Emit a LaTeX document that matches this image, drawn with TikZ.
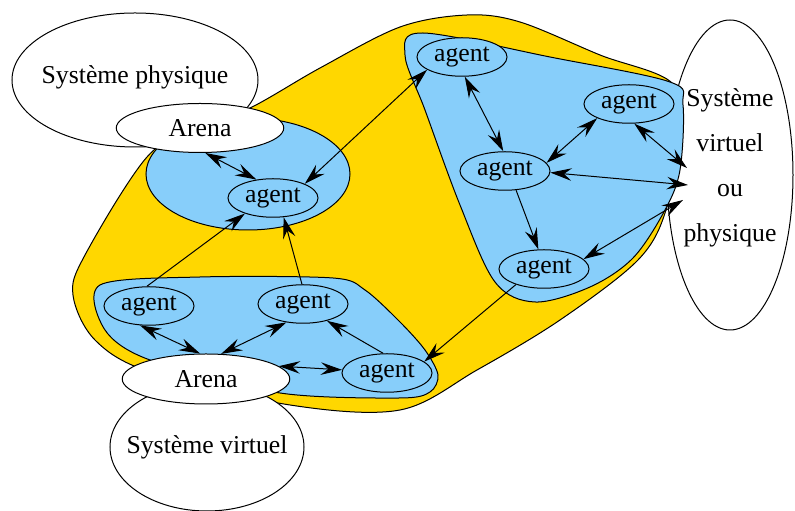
\documentclass[tikz,border=0pt]{standalone}
\usepackage{fontspec}
\setmainfont{Liberation Serif}
\usetikzlibrary{shapes,arrows.meta}
\definecolor{jaune}{RGB}{255,215,0}
\definecolor{bleu}{RGB}{135,206,250}

\begin{document}
\begin{tikzpicture}[
  x=0.4pt, y=-0.4pt,
  font=\fontsize{10.3}{18}\selectfont, >={Stealth[length=8.5pt,width=5pt,inset=3pt]},
  systeme/.style={ellipse, draw=black, fill=white, inner xsep=-5pt, inner ysep=0pt},
  agent/.style={ellipse, draw=black, fill=bleu, inner sep=0pt, minimum width=36pt, minimum height=15.4pt},
  zone/.style={draw=black, fill=bleu},
  lien/.style={<->}
]
\useasboundingbox (0,0) rectangle (795,511);

\node[systeme, align=center, text depth=7.8pt, minimum width=50.4pt, minimum height=124pt] (sysvo) at (730,175) {Système\\virtuel\\ou\\physique};

\draw[fill=jaune] plot[smooth cycle, tension=0.55] coordinates {(250,108) (320,68) (400,27) (467,15) (520,22) (600,55) (673,84) (676,140) (666,210) (638,260) (560,320) (477,370) (400,410) (290,405) (150,372) (95,340) (73,295) (85,255) (147,157) (200,125)};

\draw[zone] (248,174) ellipse [x radius=102, y radius=56];
\draw[zone] plot[smooth cycle, tension=0.55] coordinates {(423,33) (550,57) (670,82) (683,105) (680,170) (665,210) (633,258) (590,287) (535,302) (495,282) (460,205) (425,110) (405,55)};
\draw[zone] plot[smooth cycle, tension=0.5] coordinates {(100,285) (200,277) (333,278) (365,290) (400,322) (425,350) (438,375) (430,392) (400,398) (280,393) (150,360) (105,330)};

\node[systeme, text depth=4.6pt, minimum width=98.4pt, minimum height=53.6pt] (sysphys) at (135,80) {Système physique};
\node[systeme, minimum width=67pt, minimum height=19.6pt] (arenah) at (200,128) {Arena};
\node[systeme, minimum width=77.6pt, minimum height=51.2pt] (sysvirt) at (207,447) {Système virtuel};
\node[systeme, minimum width=67pt, minimum height=20pt] (arenab) at (206,379) {Arena};

\node[agent] (agA) at (273,198) {agent};
\node[agent] (agB1) at (149,306) {agent};
\node[agent] (agB2) at (303,304) {agent};
\node[agent] (agB3) at (387,373) {agent};
\node[agent] (agC1) at (462,57) {agent};
\node[agent] (agC2) at (629,104) {agent};
\node[agent] (agC3) at (505,171) {agent};
\node[agent] (agC4) at (544,269) {agent};

\coordinate (vo1) at (687,168);
\coordinate (vo2) at (688,185);
\coordinate (vo3) at (683,200);

\draw[lien] (arenah.-78) -- (agA.132);
\draw[lien] (agA.24) -- (agC1.200);
\draw[->] (agB1.96) -- (agA.209);
\draw[->] (agB2.93) -- (agA.-61);
\draw[lien] (agB1.-115) -- (arenab.103);
\draw[lien] (arenab.59) -- (agB2.228);
\draw[lien] (arenab.10) -- (agB3.176);
\draw[->] (agB3.101) -- (agB2.-35);
\draw[->] (agC4.209) -- (agB3.17);
\draw[lien] (agC1.-82) -- (agC3.95);
\draw[->] (agC3.-60) -- (agC4.106);
\draw[lien] (agC3.11) -- (agC2.204);
\draw[lien] (agC2.-75) -- (vo1);
\draw[lien] (agC3.-2) -- (vo2);
\draw[lien] (agC4.14) -- (vo3);
\end{tikzpicture}
\end{document}
